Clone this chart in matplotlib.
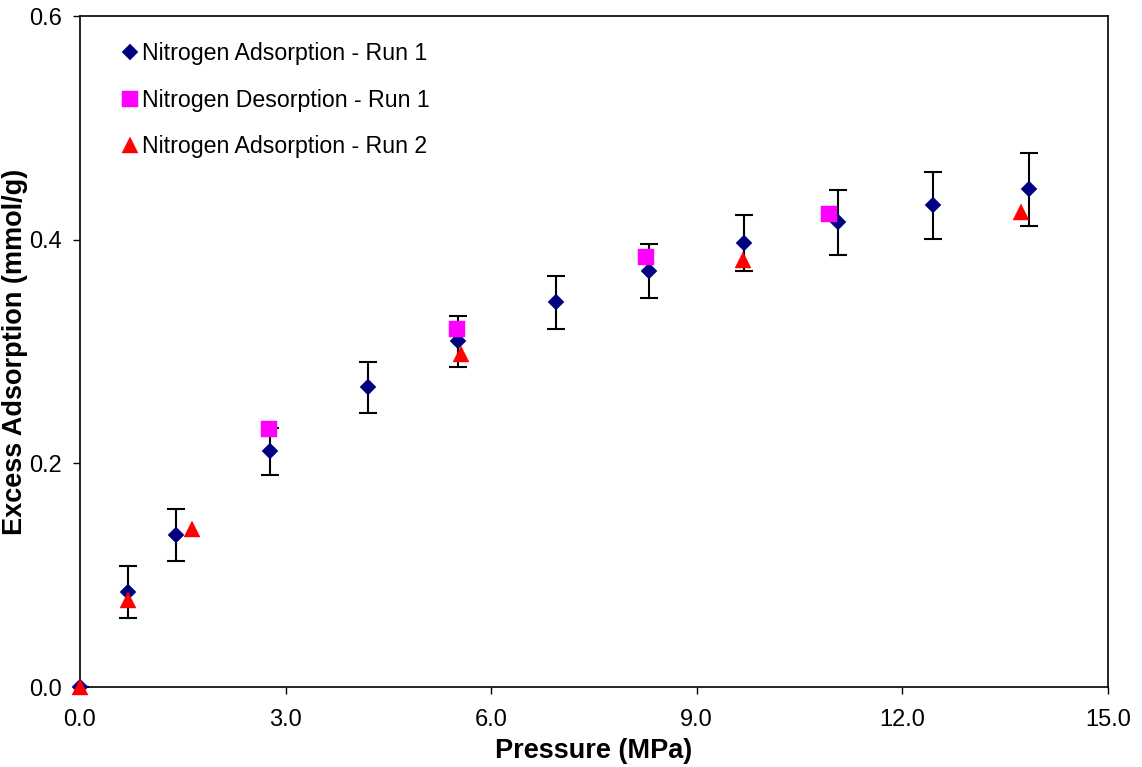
import matplotlib.pyplot as plt
from matplotlib.ticker import FormatStrFormatter

# Nitrogen adsorption, run 1 (with error bars)
ads1_p = [0.0, 0.70, 1.40, 2.77, 4.20, 5.52, 6.95, 8.31, 9.69, 11.07, 12.45, 13.85]
ads1_q = [0.0, 0.085, 0.136, 0.211, 0.268, 0.309, 0.344, 0.372, 0.397, 0.4155, 0.431, 0.445]
ads1_err = [0.0, 0.023, 0.023, 0.021, 0.023, 0.023, 0.024, 0.024, 0.025, 0.029, 0.030, 0.033]

# Nitrogen desorption, run 1
des1_p = [2.76, 5.50, 8.26, 10.93]
des1_q = [0.231, 0.320, 0.385, 0.423]

# Nitrogen adsorption, run 2
ads2_p = [0.0, 0.70, 1.63, 5.56, 9.68, 13.74]
ads2_q = [0.0, 0.078, 0.141, 0.298, 0.382, 0.425]

plt.rcParams['font.family'] = ['Liberation Sans', 'DejaVu Sans']

fig = plt.figure(figsize=(11.42, 7.67), dpi=100)
ax = fig.add_axes([0.070, 0.1043, 0.900, 0.8747])

ax.errorbar(ads1_p, ads1_q, yerr=ads1_err, fmt='none', ecolor='black',
            elinewidth=1.5, capsize=6.5, capthick=1.5, zorder=2)
ax.plot(ads1_p, ads1_q, 'D', color='#000080', markersize=8, mew=0.3,
        label='Nitrogen Adsorption - Run 1', zorder=3, clip_on=False)
ax.plot(des1_p, des1_q, 's', color='#FF00FF', markersize=12, mew=0.3,
        label='Nitrogen Desorption - Run 1', zorder=4, clip_on=False)
ax.plot(ads2_p, ads2_q, '^', color='#FF0000', markersize=12, mew=0.3,
        label='Nitrogen Adsorption - Run 2', zorder=5, clip_on=False)

ax.set_xlim(0, 15)
ax.set_ylim(0, 0.6)
ax.set_xticks([0, 3, 6, 9, 12, 15])
ax.set_yticks([0, 0.2, 0.4, 0.6])
ax.xaxis.set_major_formatter(FormatStrFormatter('%.1f'))
ax.yaxis.set_major_formatter(FormatStrFormatter('%.1f'))
ax.tick_params(direction='out', length=5, width=1, labelsize=17)
ax.tick_params(axis='x', pad=11)
ax.tick_params(axis='y', pad=8)

for s in ax.spines.values():
    s.set_linewidth(1.2)

ax.set_xlabel('Pressure (MPa)', fontsize=19.5, fontweight='bold', labelpad=5)
ax.set_ylabel('Excess Adsorption (mmol/g)', fontsize=19.5, fontweight='bold')
ax.yaxis.set_label_coords(-0.0505, 0.5)

ax.legend(loc='upper left', frameon=False, fontsize=16.7, handletextpad=0.05,
          labelspacing=1.02, borderaxespad=0.0, handlelength=1.0,
          bbox_to_anchor=(0.028, 0.975))

fig.savefig('out.png', dpi=100)
